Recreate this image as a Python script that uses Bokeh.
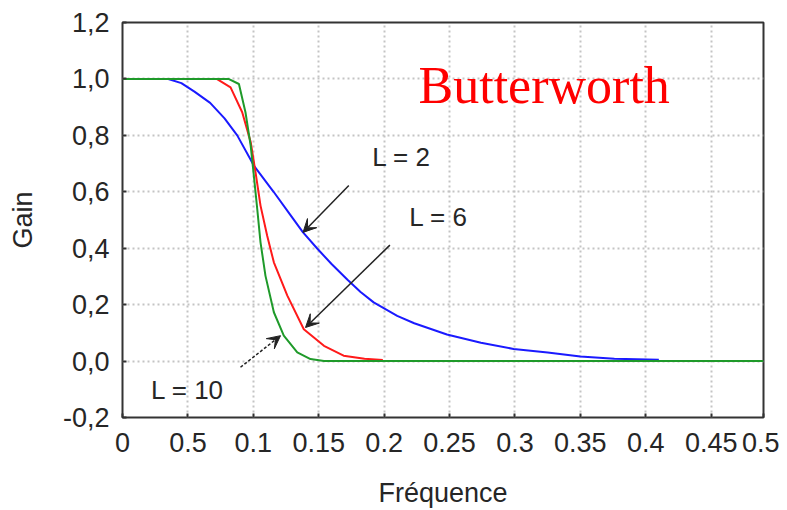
from bokeh.plotting import figure
from bokeh.models import Range1d, FixedTicker, Arrow, VeeHead, Label
from bokeh.embed import file_html
from bokeh.resources import INLINE

# ---------------- data ----------------
x_ticks = [0, 0.05, 0.1, 0.15, 0.2, 0.25, 0.3, 0.35, 0.4, 0.45, 0.49]
x_tick_labels = ["0", "0.5", "0.1", "0.15", "0.2", "0.25", "0.3", "0.35", "0.4", "0.45", "0.5"]
y_ticks = [-0.2, 0.0, 0.2, 0.4, 0.6, 0.8, 1.0, 1.2]
y_tick_labels = ["-0,2", "0,0", "0,2", "0,4", "0,6", "0,8", "1,0", "1,2"]

freq_L2 = [0, 0.035, 0.045, 0.055, 0.067, 0.078, 0.0877, 0.1004, 0.1155, 0.128, 0.138,
           0.149, 0.160, 0.172, 0.182, 0.192, 0.210, 0.223, 0.248, 0.274, 0.299, 0.325,
           0.350, 0.376, 0.41]
gain_L2 = [1.0, 1.0, 0.985, 0.955, 0.915, 0.86, 0.80, 0.693, 0.60, 0.52, 0.456,
           0.398, 0.343, 0.288, 0.245, 0.208, 0.160, 0.134, 0.094, 0.065, 0.043, 0.030,
           0.016, 0.008, 0.005]

freq_L6 = [0, 0.072, 0.0826, 0.0915, 0.098, 0.1017, 0.1055, 0.1106, 0.1157, 0.126,
           0.1386, 0.154, 0.169, 0.185, 0.199]
gain_L6 = [1.0, 1.0, 0.97, 0.882, 0.776, 0.669, 0.551, 0.444, 0.350, 0.232,
           0.113, 0.054, 0.019, 0.008, 0.004]

freq_L10 = [0, 0.081, 0.089, 0.094, 0.098, 0.1004, 0.103, 0.1055, 0.1093, 0.1157,
            0.1233, 0.1336, 0.1437, 0.154, 0.49]
gain_L10 = [1.0, 1.0, 0.982, 0.882, 0.763, 0.657, 0.539, 0.421, 0.302, 0.173,
            0.090, 0.031, 0.007, 0.0, 0.0]

series_names = ["L = 2", "L = 6", "L = 10"]

# ---------------- styling / annotation placement ----------------
TXT = "#262626"
FONT = "Liberation Sans"

p = figure(width=779, height=510, output_backend="svg", toolbar_location=None,
           x_range=Range1d(0, 0.49), y_range=Range1d(-0.2, 1.2),
           min_border_left=122, min_border_right=16, min_border_top=22,
           min_border_bottom=92)
p.background_fill_color = "white"
p.border_fill_color = "white"
p.outline_line_color = "#333333"
p.outline_line_width = 2

p.xaxis.ticker = FixedTicker(ticks=x_ticks)
p.yaxis.ticker = FixedTicker(ticks=y_ticks)
p.xaxis.major_label_overrides = {t: l for t, l in zip(x_ticks, x_tick_labels)}
p.yaxis.major_label_overrides = {t: l for t, l in zip(y_ticks, y_tick_labels)}

for ax in (p.xaxis[0], p.yaxis[0]):
    ax.axis_line_color = None
    ax.major_tick_in = 4
    ax.major_tick_out = 0
    ax.major_tick_line_color = "#333333"
    ax.major_tick_line_width = 2
    ax.minor_tick_line_color = None
    ax.major_label_text_font = FONT
    ax.major_label_text_font_size = "27px"
    ax.major_label_text_color = TXT
    ax.axis_label_text_font = FONT
    ax.axis_label_text_font_size = "27px"
    ax.axis_label_text_font_style = "normal"
    ax.axis_label_text_color = TXT

p.xaxis.major_label_standoff = 15
p.yaxis.major_label_standoff = 13
p.xaxis.axis_label = "Fréquence"
p.yaxis.axis_label = "Gain"
p.xaxis.axis_label_standoff = 23
p.yaxis.axis_label_standoff = 22

p.grid.grid_line_color = "#c4c4c4"
p.grid.grid_line_dash = "2 3"
p.grid.grid_line_width = 2

p.line(freq_L2, gain_L2, line_color="#1a1aff", line_width=2)
p.line(freq_L6, gain_L6, line_color="#ff1a1a", line_width=2)
p.line(freq_L10, gain_L10, line_color="#1f9a2a", line_width=2)

arrows = [
    (0.173, 0.622, 0.138, 0.456, "solid"),
    (0.2044, 0.411, 0.1399, 0.119, "solid"),
    (0.0902, -0.022, 0.1208, 0.090, "3 2"),
]
for xs, ys, xe, ye, dash in arrows:
    p.add_layout(Arrow(end=VeeHead(size=13, fill_color="#222222", line_color="#222222"),
                       x_start=xs, y_start=ys, x_end=xe, y_end=ye,
                       line_color="#222222", line_width=1.5, line_dash=dash))

label_pos = [(0.2133, 0.723), (0.2416, 0.511), (0.0497, -0.103)]
for name, (lx, ly) in zip(series_names, label_pos):
    p.add_layout(Label(x=lx, y=ly, text=name, text_font=FONT, text_font_size="26px",
                       text_color=TXT, text_align="center", text_baseline="middle"))

p.add_layout(Label(x=0.2263, y=0.975, text="Butterworth", text_font="Liberation Serif",
                   text_font_size="52px", text_color="#ff0000", text_align="left",
                   text_baseline="alphabetic"))

open("out.html", "w").write(file_html(p, INLINE))
